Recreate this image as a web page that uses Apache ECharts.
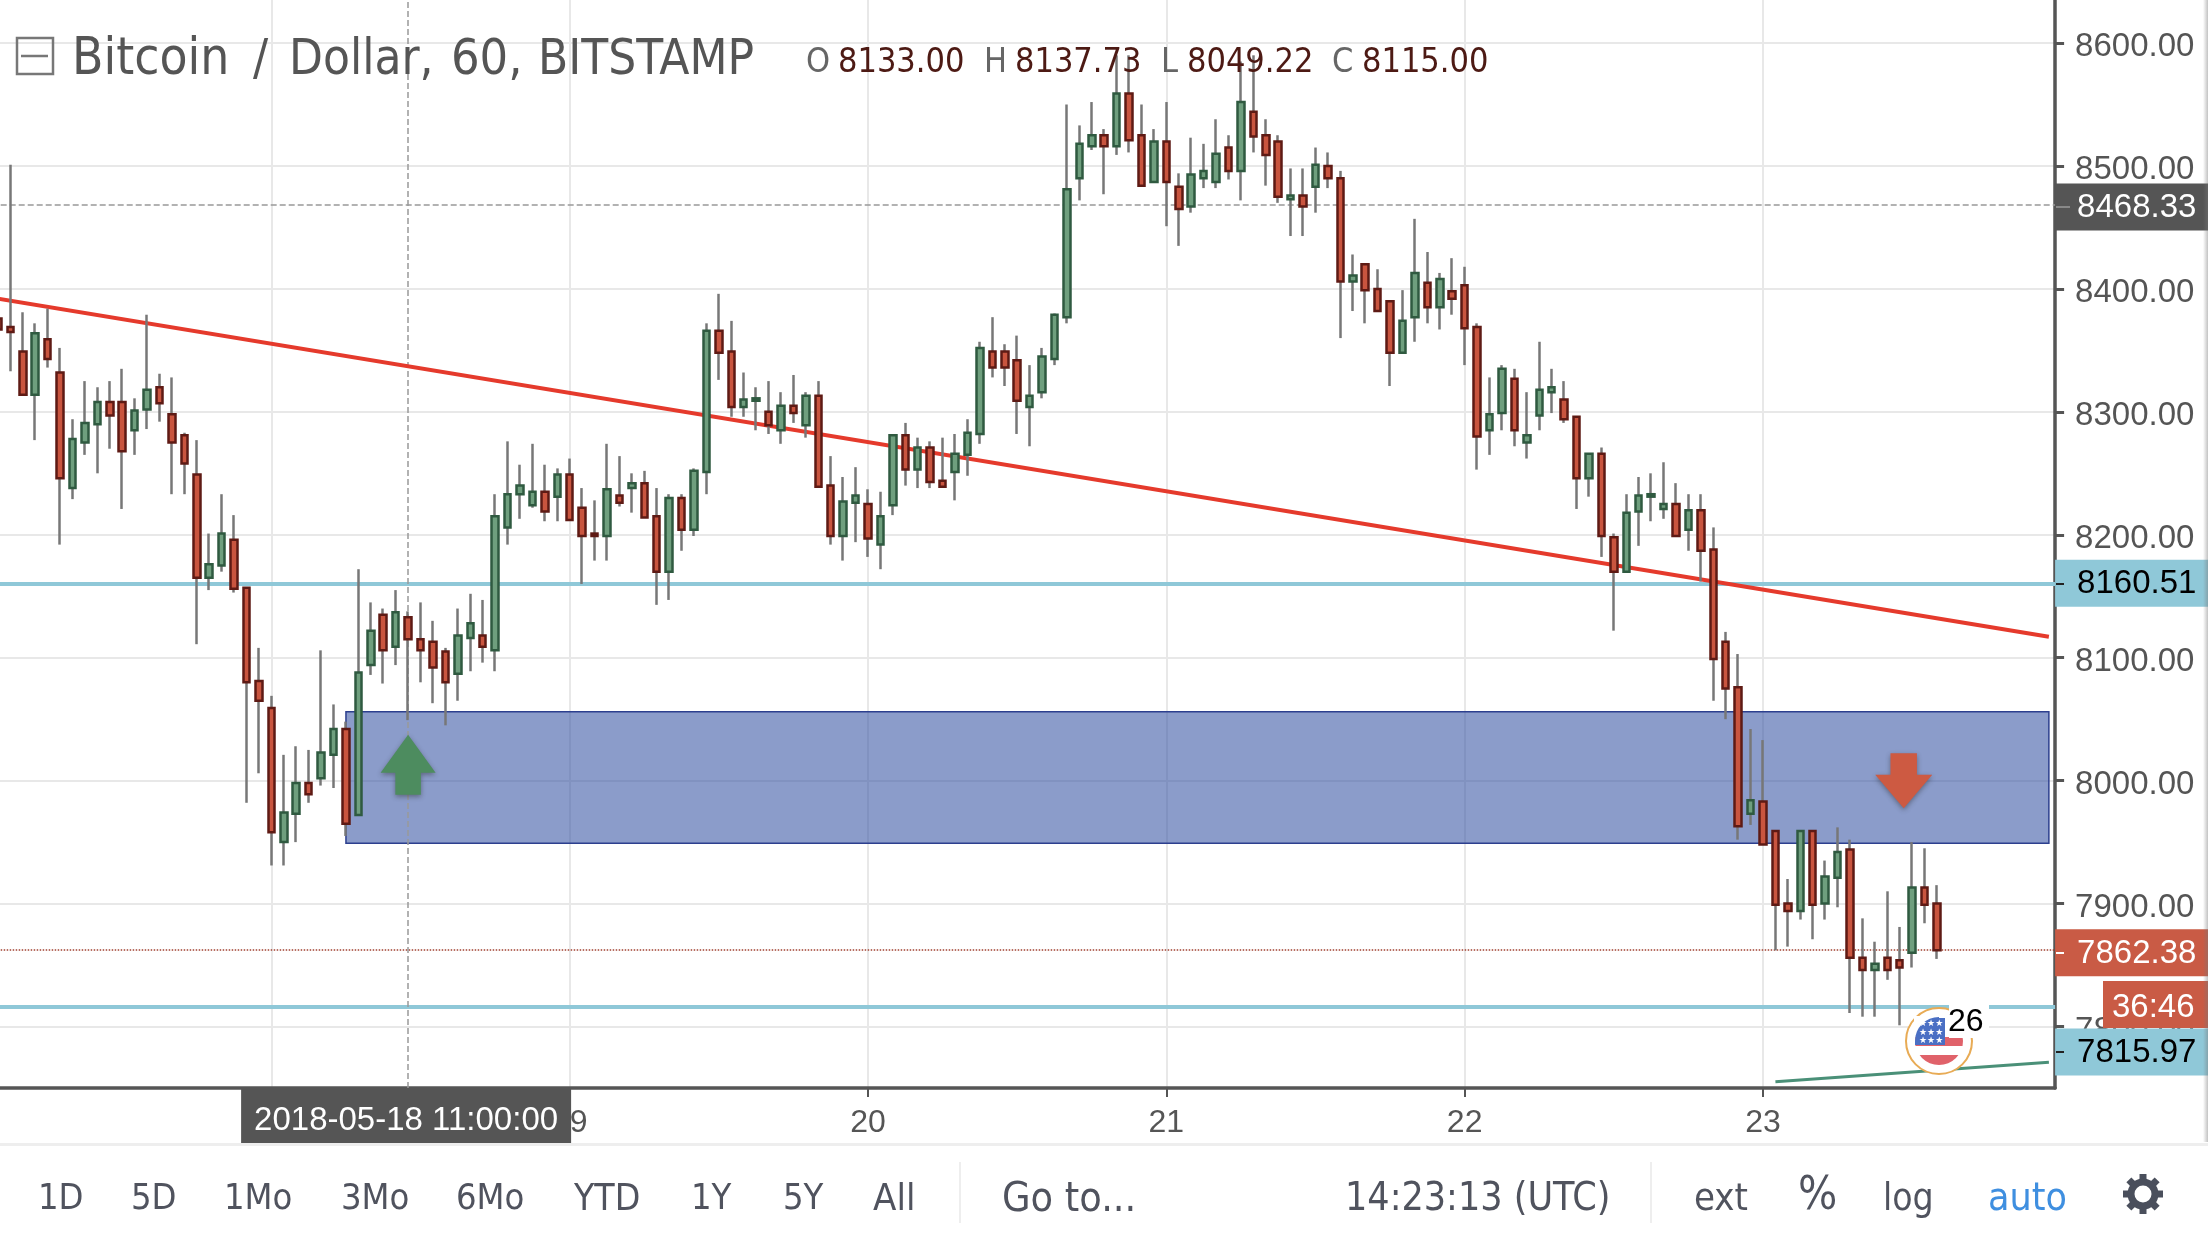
<!DOCTYPE html>
<html>
<head>
<meta charset="utf-8">
<title>Bitcoin / Dollar</title>
<script src="https://cdn.jsdelivr.net/npm/echarts@6/dist/echarts.min.js"></script>
<style>
html,body{margin:0;padding:0;background:#fff;}
#chart{width:2208px;height:1242px;}
</style>
</head>
<body>
<div id="chart"></div>
<script>
// hourly candles, first one is 2018-05-17 02:00
const opens=[8376,8369,8349,8314,8359,8332,8238,8275,8290,8308,
8308,8285,8302,8320,8298,8281,8249,8165,8175,8196,
8157,8081,8059,7950,7973,7998,8002,8021,8042,7972,
8094,8135,8109,8133,8115,8113,8105,8087,8116,8118,
8106,8206,8233,8224,8235,8231,8249,8222,8201,8199,
8232,8238,8242,8215,8170,8230,8204,8251,8366,8349,
8304,8309,8300,8285,8305,8289,8313,8240,8199,8226,
8225,8192,8224,8281,8253,8271,8244,8251,8265,8282,
8349,8349,8342,8304,8316,8343,8377,8490,8516,8525,
8516,8559,8525,8487,8520,8483,8467,8490,8487,8515,
8496,8544,8525,8520,8473,8476,8483,8500,8490,8406,
8420,8400,8390,8348,8377,8405,8385,8398,8403,8369,
8285,8299,8327,8275,8297,8316,8310,8296,8246,8266,
8198,8170,8219,8231,8221,8225,8204,8220,8188,8113,
8076,7973,7983,7959,7900,7894,7959,7900,7921,7944,
7856,7846,7856,7854,7860,7913,7900];
const closes=[8367,8365,8314,8364,8343,8246,8278,8291,8308,8297,
8268,8301,8318,8307,8275,8258,8165,8176,8201,8156,
8080,8065,7958,7974,7998,7989,8023,8042,7965,8088,
8122,8106,8137,8115,8106,8092,8080,8118,8128,8109,
8215,8233,8240,8235,8219,8249,8212,8199,8199,8237,
8226,8242,8214,8170,8230,8204,8252,8366,8348,8304,
8310,8311,8289,8305,8299,8313,8239,8199,8227,8232,
8197,8215,8281,8253,8271,8243,8239,8266,8283,8352,
8336,8336,8309,8313,8345,8379,8481,8518,8525,8516,
8559,8521,8484,8520,8487,8465,8493,8496,8510,8496,
8552,8524,8509,8475,8476,8467,8501,8490,8406,8411,
8399,8382,8348,8374,8413,8385,8408,8392,8368,8280,
8298,8335,8285,8281,8318,8320,8294,8246,8266,8199,
8170,8218,8232,8233,8225,8199,8220,8187,8099,8075,
7963,7984,7948,7899,7894,7959,7899,7922,7942,7856,
7846,7851,7846,7848,7913,7899,7862];
const highs=[8380,8501,8381,8372,8384,8352,8294,8325,8320,8325,
8335,8311,8379,8331,8328,8283,8277,8201,8233,8216,
8157,8108,8069,8021,8028,8025,8106,8062,8048,8172,
8145,8140,8155,8137.73,8145,8130,8108,8140,8152,8147,
8233,8276,8257,8274,8257,8254,8262,8238,8228,8274,
8264,8250,8252,8238,8233,8233,8254,8372,8396,8374,
8332,8320,8325,8316,8330,8316,8325,8264,8247,8255,
8237,8235,8281,8291,8279,8276,8279,8282,8294,8357,
8377,8355,8362,8338,8352,8380,8550,8533,8552,8530,
8590,8590,8550,8530,8552,8494,8523,8518,8538,8525,
8585,8590,8538,8525,8498,8498,8515,8511,8496,8428,
8420,8416,8390,8399,8457,8430,8413,8425,8418,8372,
8328,8338,8335,8316,8357,8335,8325,8296,8266,8271,
8201,8233,8247,8250,8259,8242,8233,8233,8206,8121,
8103,8042,8033,7959,7920,7959,7959,7935,7962,7952,
7888,7869,7910,7881,7950,7945,7915];
const lows=[8362,8333,8314,8277,8336,8192,8229,8265,8250,8270,
8221,8265,8286,8292,8233,8233,8111,8155,8170,8153,
7982,8006,7931,7931,7950,7982,7996,7994,7955,7972,
8086,8079,8094,8049.22,8080,8063,8045,8065,8089,8096,
8089,8192,8213,8222,8211,8211,8212,8160,8179,8179,
8223,8218,8214,8143,8147,8187,8199,8233,8326,8296,
8296,8285,8282,8274,8291,8279,8239,8192,8179,8194,
8182,8172,8216,8240,8238,8238,8239,8228,8248,8274,
8328,8321,8282,8272,8311,8338,8372,8472,8513,8477,
8509,8511,8484,8487,8451,8435,8462,8482,8482,8489,
8472,8511,8484,8470,8443,8443,8462,8482,8360,8382,
8372,8382,8321,8348,8357,8372,8367,8379,8338,8253,
8265,8285,8272,8262,8285,8299,8291,8221,8231,8182,
8122,8170,8191,8211,8213,8199,8187,8162,8065,8050,
7952,7964,7948,7862,7865,7887,7871,7887,7897,7811,
7808,7808,7838,7801,7848,7884,7855];

const yTicks=[7800,7900,8000,8100,8200,8300,8400,8500,8600];
const titleWords=[["Bitcoin",72,51],["/",253,50],["Dollar,",289,49],["60,",451,50],["BITSTAMP",538,49]];
const toolbarItems=[["1D",38,36],["5D",131,36],["1Mo",224,36],["3Mo",341,36],["6Mo",456,36],["YTD",574,37],["1Y",691,36],["5Y",783,36],["All",873,38],["Go to...",1002,41],["14:23:13 (UTC)",1345,39],["ext",1694,38],["log",1883,37]];
const ohlcText=[["O",806,"#666"],["8133.00",838,"#4d1a14"],["H",984,"#666"],["8137.73",1015,"#4d1a14"],["L",1161,"#666"],["8049.22",1187,"#4d1a14"],["C",1332,"#666"],["8115.00",1362,"#4d1a14"]];

const crossPrice=8468.33, crossTime="2018-05-18 11:00:00";
const levelHigh=8160.51, levelLow=7815.97, lastPrice=7862.38;
const zoneTop=8056, zoneBottom=7949;
const trendStart=8392, trendEnd=8117;
const greenStart=7755, greenEnd=7771;

// one category per hour, 9 empty ones on the right
const categories=[];
for(let i=0;i<166;i++){
    const d=new Date(Date.UTC(2018,4,17,2+i));
    categories.push(d.toISOString().slice(0,19).replace("T"," "));
}
const isMidnight=(name)=>name.indexOf(" 00:00:00")>0;
const midIdx=(i,name)=>isMidnight(name);

const wicks=opens.map((o,i)=>[o,closes[i],lows[i],highs[i]]);
const bodies=opens.map((o,i)=>[o,closes[i],Math.min(o,closes[i]),Math.max(o,closes[i])]);

const SANS="Liberation Sans", COND="DejaVu Sans Condensed";

// rich token with top padding, digits sit a bit under the middle of the tag
const tag=(bg,fg,text,offset)=>({
    show:true,position:"end",distance:0,formatter:"{t|"+text+"}",backgroundColor:bg,
    width:132,height:47,padding:[0,0,0,22],
    align:"left",verticalAlign:"middle",offset:offset||[0,0],
    rich:{t:{color:fg,fontFamily:SANS,fontSize:33,padding:[8,0,0,0]}}
});

const gfx=[];
const txt=(text,x,y,font,fill,extra)=>gfx.push({type:"text",z:100,silent:true,style:Object.assign({text,x,y,font,fill,verticalAlign:"middle"},extra||{})});
const box=(x,y,width,height,fill,extra)=>gfx.push(Object.assign({type:"rect",z:100,silent:true,shape:{x,y,width,height},style:{fill}},extra||{}));
const seg=(x1,y1,x2,y2,stroke,lineWidth)=>gfx.push({type:"line",z:100,silent:true,shape:{x1,y1,x2,y2},style:{stroke,lineWidth}});

// header
gfx.push({type:"rect",z:100,silent:true,shape:{x:17,y:38,width:36,height:36},style:{fill:"none",stroke:"#777",lineWidth:2.5}});
seg(21,56,48,56,"#777",2.5);
titleWords.forEach(t=>txt(t[0],t[1],61,t[2]+"px '"+COND+"'","#555"));
ohlcText.forEach(t=>txt(t[0],t[1],63,"34px '"+COND+"'",t[2]));

// countdown tag and small ticks on the price tags
box(2103,981,105,47,"#c95b45");
txt("36:46",2112,1008,"33px '"+SANS+"'","#fff");
seg(2056,207,2070,207,"#888",2);
seg(2056,584,2064,584,"#222",2);
seg(2056,953,2064,953,"#fff",2);
seg(2056,1052,2064,1052,"#222",2);

// event flag, the white rects cut the round shape
gfx.push({type:"circle",z:100,silent:true,shape:{cx:1939,cy:1041,r:33},style:{fill:"#fff",stroke:"#e8ab55",lineWidth:2}});
gfx.push({type:"circle",z:100,silent:true,shape:{cx:1939,cy:1041,r:24},style:{fill:"#e0626a"}});
box(1914,1016,50,21,"#fff");
box(1914,1046,50,9,"#fff");
gfx.push({type:"sector",z:100,silent:true,shape:{cx:1939,cy:1041,r0:0,r:24,startAngle:Math.PI,endAngle:Math.PI*1.5},style:{fill:"#4a6fc4"}});
box(1936,1018,9,27,"#4a6fc4");
box(1915,1041,30,4,"#4a6fc4");
txt("★★★",1919,1024,"9px 'DejaVu Sans'","#fff");
txt("★★★",1919,1033,"9px 'DejaVu Sans'","#fff");
txt("★★★",1919,1041,"9px 'DejaVu Sans'","#fff");
box(1949,1002,40,36,"#fff");
txt("26",1948,1022,"32px '"+SANS+"'","#000");

// toolbar
box(0,1143,2208,3,"#eeeeee");
box(959,1162,2,61,"#eeeeee");
box(1650,1162,2,61,"#eeeeee");
toolbarItems.forEach(t=>txt(t[0],t[1],1200,t[2]+"px '"+COND+"'","#50535e"));
txt("%",1798,1197,"46px '"+COND+"'","#50535e");
txt("auto",1988,1200,"39px '"+COND+"'","#3f8fe0");

// settings gear
for(let a=0;a<8;a++){
    const ang=a*Math.PI/4;
    seg(2143+12*Math.cos(ang),1194+12*Math.sin(ang),2143+20*Math.cos(ang),1194+20*Math.sin(ang),"#4a4f5c",7);
}
gfx.push({type:"circle",z:100,silent:true,shape:{cx:2143,cy:1194,r:12},style:{fill:"#fff",stroke:"#4a4f5c",lineWidth:7}});

// shadow of the phone edge
gfx.push({type:"rect",z:101,silent:true,shape:{x:2203,y:0,width:5,height:1142},style:{fill:new echarts.graphic.LinearGradient(0,0,1,0,[{offset:0,color:"rgba(120,120,120,0)"},{offset:1,color:"rgba(120,120,120,0.45)"}])}});

const option={
    animation:false,
    backgroundColor:"#fff",
    grid:{left:-8.3,width:2063.4,top:0,bottom:154,containLabel:false,outerBoundsMode:"none"},
    xAxis:{
        type:"category",
        data:categories,
        boundaryGap:true,
        axisLine:{lineStyle:{color:"#555",width:3.5}},
        axisTick:{show:true,alignWithLabel:true,interval:midIdx,length:9,lineStyle:{color:"#555",width:2}},
        axisLabel:{interval:midIdx,margin:19,fontFamily:SANS,fontSize:32,color:"#555",
            formatter:(v)=>String(parseInt(v.slice(8,10),10))},
        splitLine:{show:true,alignWithLabel:true,interval:midIdx,lineStyle:{color:"#e8e8e8",width:2}}
    },
    yAxis:{
        type:"value",
        position:"right",
        min:7750,
        max:8635,
        axisLine:{show:true,lineStyle:{color:"#555",width:3.5}},
        axisTick:{show:true,length:9,customValues:yTicks,lineStyle:{color:"#555",width:3}},
        axisLabel:{customValues:yTicks,margin:20,fontFamily:SANS,fontSize:33,color:"#555",verticalAlign:"top",lineHeight:8,
            formatter:(v)=>v.toFixed(2)},
        splitLine:{show:true,lineStyle:{color:"#e8e8e8",width:2}}
    },
    series:[
        {
            name:"wicks",
            type:"candlestick",
            data:wicks,
            barWidth:1,
            z:2,
            itemStyle:{color:"#777",color0:"#777",borderColor:"#777",borderColor0:"#777",borderWidth:2.5}
        },
        {
            name:"bodies",
            type:"candlestick",
            data:bodies,
            barWidth:7,
            z:3,
            itemStyle:{color:"#6f9f7e",color0:"#c9553f",borderColor:"#2f5a40",borderColor0:"#5e1a14",borderWidth:2.5},
            markArea:{
                silent:true,
                z:1,
                itemStyle:{color:"rgba(43,74,158,0.55)",borderColor:"#2c3f8e",borderWidth:1.5},
                data:[[{xAxis:categories[28],yAxis:zoneTop},{xAxis:categories[165],yAxis:zoneBottom}]]
            },
            markLine:{
                silent:true,
                z:1,
                symbol:"none",
                label:{show:false},
                data:[
                    {yAxis:levelHigh,lineStyle:{color:"#8fc8d8",width:4,type:"solid"},label:tag("#8fc8d8","#000",levelHigh.toFixed(2))},
                    {yAxis:levelLow,lineStyle:{color:"#8fc8d8",width:4,type:"solid"},label:tag("#8fc8d8","#000",levelLow.toFixed(2),[0,45])},
                    {yAxis:lastPrice,lineStyle:{color:"#a04030",width:1.5,type:"dotted"},label:tag("#c95b45","#fff",lastPrice.toFixed(2),[0,3])},
                    {yAxis:crossPrice,lineStyle:{color:"#999",width:1.5,type:"dashed"},label:tag("#555","#fff",crossPrice.toFixed(2),[0,2])},
                    {xAxis:crossTime,lineStyle:{color:"#999",width:1.5,type:"dashed"},label:{
                        show:true,position:"start",distance:0,formatter:crossTime,backgroundColor:"#555",color:"#fff",
                        fontFamily:SANS,fontSize:33,width:330,height:49,lineHeight:49,padding:[8,0,0,0],align:"center",verticalAlign:"top",offset:[-2,0]}},
                    [{coord:[categories[0],trendStart],lineStyle:{color:"#e53a2c",width:4,type:"solid"}},{coord:[categories[165],trendEnd]}],
                    [{coord:[categories[143],greenStart],lineStyle:{color:"#4a9078",width:3,type:"solid"}},{coord:[categories[165],greenEnd]}]
                ]
            },
            markPoint:{
                silent:true,
                label:{show:false},
                data:[
                    {coord:[crossTime,8013],symbol:"path://M28 0L56 38H41V60H15V38H0Z",symbolSize:[55,60],
                        itemStyle:{color:"#4d8c5f",shadowColor:"rgba(40,40,40,0.45)",shadowBlur:5,shadowOffsetY:2}},
                    {coord:[categories[153],8000],symbol:"path://M15 0H41V22H56L28 56L0 22H15Z",symbolSize:[57,55],symbolOffset:[4,0],
                        itemStyle:{color:"#cd5a42",shadowColor:"rgba(40,40,40,0.45)",shadowBlur:5,shadowOffsetY:2}}
                ]
            }
        }
    ],
    graphic:gfx
};

const initChart=()=>{
    const myChart=echarts.init(document.getElementById("chart"));
    myChart.setOption(option);
};

window.addEventListener("load",initChart);
</script>
</body>
</html>
